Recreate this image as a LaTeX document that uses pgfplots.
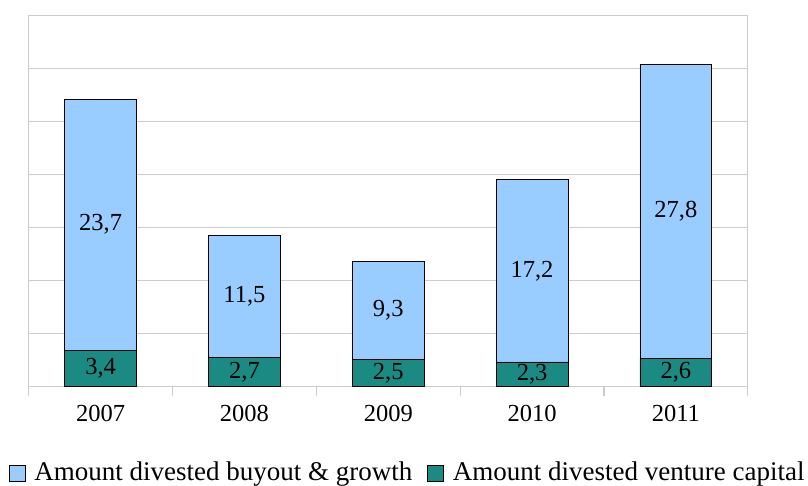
\documentclass[border=0pt]{standalone}
\usepackage{pgfplots}
\pgfplotsset{compat=1.18}
\usepackage{pgfplotstable}
\usepackage{fontspec}
\setmainfont{Liberation Serif}

\definecolor{buyout}{HTML}{99CCFF}
\definecolor{venture}{HTML}{1A8A82}
\definecolor{gridgray}{HTML}{CCCCCC}

% amounts divested per year: venture capital (bottom) and buyout & growth (top)
\pgfplotstableread{
x year vc bg
0 2007 3.4 23.7
1 2008 2.7 11.5
2 2009 2.5 9.3
3 2010 2.3 17.2
4 2011 2.6 27.8
}\divested

\begin{document}
\fontsize{24.5}{29}\selectfont%
\begin{tikzpicture}[x=1pt,y=1pt]
\begin{axis}[
  at={(20,94)}, anchor=south west,
  scale only axis, width=719pt, height=371pt,
  ybar stacked, bar width=0.5,
  xmin=-0.5, xmax=4.5, ymin=0, ymax=35,
  xtick={0,...,4},
  xticklabels={2007,2008,2009,2010,2011},
  minor xtick={-0.5,0.5,...,4.5},
  xtick pos=bottom,
  ytick={0,5,...,35},
  yticklabels={},
  major tick length=0pt,
  minor tick length=10pt,
  tick align=outside,
  tick style={gridgray, line width=1.2pt},
  ymajorgrids,
  major grid style={gridgray, line width=1.2pt},
  axis line style={gridgray, line width=1.2pt},
  xticklabel style={yshift=-10pt},
  /pgf/number format/assume math mode=true,
  visualization depends on={rawy \as \rawy},
  nodes near coords={\pgfmathprintnumber[fixed,fixed zerofill,precision=1,use comma]{\rawy}},
  every node near coord/.append style={anchor=center, text=black},
  legend columns=2,
  legend style={at={(-0.0278,-0.233)}, anchor=west, draw=none, fill=none,
    inner sep=0pt, font=\fontsize{27}{31}\selectfont,
    /tikz/every even column/.append style={column sep=13pt}},
  legend image code/.code={\draw[#1, draw=black, line width=0.6pt] (2pt,-8pt) rectangle (18pt,8pt); \path (25pt,0pt);},
]
\addplot[fill=venture, draw=black, line width=0.8pt, forget plot] table[x=x, y=vc] {\divested};
\addplot[fill=buyout, draw=black, line width=0.8pt, forget plot] table[x=x, y=bg] {\divested};
\addlegendimage{fill=buyout}
\addlegendentry{Amount divested buyout \& growth}
\addlegendimage{fill=venture}
\addlegendentry{Amount divested venture capital}
\end{axis}
\pgfresetboundingbox
\path[use as bounding box] (0,0) rectangle (808,486);
\end{tikzpicture}
\end{document}
